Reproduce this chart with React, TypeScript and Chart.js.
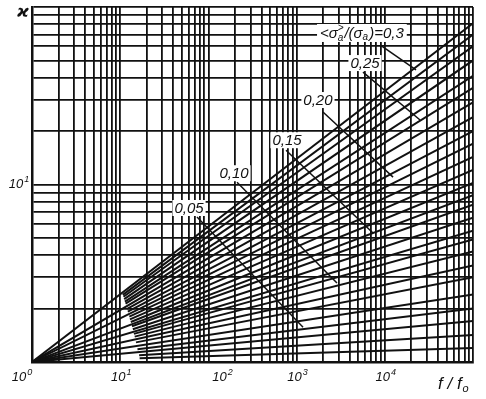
import React, { useEffect, useRef } from "react";
import { Chart, registerables } from "chart.js";

Chart.register(...registerables);

// ---- axis ranges and grid ----
const X_MIN = 1;
const X_MAX = 100000;
const Y_MIN = 1;
const Y_MAX = 100;
const gridMantissas = [1, 2, 3, 4, 5, 6, 7, 8, 9];
const xDecades = [1, 10, 100, 1000, 10000];
const yDecades = [1, 10];

// ---- tick labels ----
const xLabelValues = [1, 10, 100, 1000, 10000];
const xLabelExponents = ["0", "1", "2", "3", "4"];
const yLabelValues = [10];
const yLabelExponents = ["1"];

// ---- family of lines: start point (x, kappa) and kappa at x = 1e5 ----
const lineStartX = [1, 10.7, 10.9, 11.1, 11.3, 11.5, 1, 12.0, 12.2, 1, 12.7, 12.9, 13.2, 1, 13.6, 13.9, 1, 14.3, 14.6, 1, 15.1, 1, 15.7, 1, 16.4, 16.6];
const lineStartK = [1, 2.39, 2.33, 2.26, 2.19, 2.13, 1, 1.99, 1.92, 1, 1.8, 1.74, 1.68, 1, 1.59, 1.53, 1, 1.44, 1.39, 1, 1.29, 1, 1.18, 1, 1.09, 1.05];
const lineEndK = [81, 70, 60, 50, 41, 35, 29, 24, 20, 17, 14.3, 12.1, 10.2, 8.7, 7.7, 6.5, 5.5, 4.9, 4.2, 3.5, 3.0, 2.4, 2.0, 1.7, 1.42, 1.2];

// ---- parameter labels and their leader lines ----
const leaderLabels = ["0,05", "0,10", "0,15", "0,20", "0,25", "0,3"];
const leaderX1 = [74.3, 211, 758, 1990, 5660, 8830];
const leaderY1 = [6.56, 10.3, 15.6, 25.6, 43.0, 61.1];
const leaderX2 = [1183, 2870, 7350, 12400, 25100, 22600];
const leaderY2 = [1.57, 2.79, 5.33, 11.0, 23.1, 44.2];

// ---- styles (pixel offsets of texts) ----
const LABEL_OFFSETS = [
  [-8, -9],
  [-3, -9],
  [1, -10],
  [-5, -12],
  [2, -9],
  [-60, -12],
];
const X_LABEL_DX = [-10, 1, 14, 1, 1];
const FONT = "'Liberation Sans', Arial, sans-serif";
const INK = "#111";

function drawPow(ctx: CanvasRenderingContext2D, cx: number, cy: number, exp: string) {
  ctx.font = `italic 13px ${FONT}`;
  const w1 = ctx.measureText("10").width;
  ctx.font = `italic 9px ${FONT}`;
  const w2 = ctx.measureText(exp).width;
  const total = w1 + 1 + w2;
  const left = cx - total / 2;
  ctx.textBaseline = "middle";
  ctx.textAlign = "left";
  ctx.font = `italic 13px ${FONT}`;
  ctx.fillText("10", left, cy + 1);
  ctx.font = `italic 9px ${FONT}`;
  ctx.fillText(exp, left + w1 + 1, cy - 4);
}

const annotPlugin = {
  id: "annot",
  afterDraw(chart: any) {
    const ctx: CanvasRenderingContext2D = chart.ctx;
    const xs = chart.scales.x;
    const ys = chart.scales.y;
    const area = chart.chartArea;
    ctx.save();
    ctx.fillStyle = INK;

    // parameter labels
    leaderLabels.forEach((lab, i) => {
      const px = xs.getPixelForValue(leaderX1[i]);
      const py = ys.getPixelForValue(leaderY1[i]);
      const [dx, dy] = LABEL_OFFSETS[i];
      ctx.textBaseline = "middle";
      if (i < leaderLabels.length - 1) {
        ctx.font = `italic 15px ${FONT}`;
        const w = ctx.measureText(lab).width;
        const cx = px + dx;
        const cy = py + dy;
        ctx.fillStyle = "#fff";
        ctx.fillRect(cx - w / 2 - 2, cy - 8, w + 4, 16);
        ctx.fillStyle = INK;
        ctx.textAlign = "center";
        ctx.fillText(lab, cx, cy + 1);
      } else {
        // "<σ~a>/(σa)=0,3"
        const big = `italic 15px ${FONT}`;
        const small = `italic 10px ${FONT}`;
        ctx.font = big;
        const wA = ctx.measureText("<σ").width;
        const wB = ctx.measureText("/(σ").width;
        const wC = ctx.measureText(")=" + lab).width;
        ctx.font = small;
        const wa = ctx.measureText("a").width + 1;
        const total = wA + wa + wB + wa + wC;
        const left = px + dx;
        const cy = py + dy;
        ctx.fillStyle = "#fff";
        ctx.fillRect(left - 3, cy - 9, total + 6, 18);
        ctx.fillStyle = INK;
        ctx.textAlign = "left";
        let x = left;
        ctx.font = big;
        ctx.fillText("<σ", x, cy + 1);
        x += wA;
        ctx.font = small;
        ctx.fillText("˃", x, cy - 5);
        ctx.fillText("a", x, cy + 5);
        x += wa;
        ctx.font = big;
        ctx.fillText("/(σ", x, cy + 1);
        x += wB;
        ctx.font = small;
        ctx.fillText("a", x, cy + 4);
        x += wa;
        ctx.font = big;
        ctx.fillText(")=" + lab, x, cy + 1);
      }
    });

    // x tick labels
    ctx.fillStyle = INK;
    xLabelValues.forEach((v, i) => {
      const px = xs.getPixelForValue(v) + X_LABEL_DX[i];
      drawPow(ctx, px, area.bottom + 14, xLabelExponents[i]);
    });
    // y tick labels
    yLabelValues.forEach((v, i) => {
      const py = ys.getPixelForValue(v);
      drawPow(ctx, area.left - 13, py - 1, yLabelExponents[i]);
    });

    // axis titles
    ctx.textAlign = "center";
    ctx.textBaseline = "middle";
    ctx.font = `bold italic 16px 'DejaVu Sans', sans-serif`;
    ctx.fillText("ϰ", area.left - 9, area.top + 6);

    ctx.textAlign = "left";
    ctx.font = `italic 17px ${FONT}`;
    const fx = area.right - 35;
    const fy = area.bottom + 22;
    ctx.fillText("f / f", fx, fy);
    const fw = ctx.measureText("f / f").width;
    ctx.font = `italic 11px ${FONT}`;
    ctx.fillText("o", fx + fw + 1, fy + 5);

    ctx.restore();
  },
};

export default function App() {
  const ref = useRef<HTMLCanvasElement | null>(null);

  useEffect(() => {
    if (!ref.current) return;
    const xGrid: number[] = [];
    xDecades.forEach((d) => gridMantissas.forEach((m) => xGrid.push(m * d)));
    xGrid.push(X_MAX);
    const yGrid: number[] = [];
    yDecades.forEach((d) => gridMantissas.forEach((m) => yGrid.push(m * d)));
    yGrid.push(Y_MAX);

    const lineSets = lineEndK.map((k, i) => ({
      data: [
        { x: lineStartX[i], y: lineStartK[i] },
        { x: X_MAX, y: k },
      ],
      borderColor: INK,
      borderWidth: 2,
      pointRadius: 0,
      fill: false,
    }));
    const leaderSets = leaderLabels.map((_, i) => ({
      data: [
        { x: leaderX1[i], y: leaderY1[i] },
        { x: leaderX2[i], y: leaderY2[i] },
      ],
      borderColor: INK,
      borderWidth: 1.5,
      pointRadius: 0,
      fill: false,
    }));

    const chart = new Chart(ref.current, {
      type: "line",
      data: { datasets: [...lineSets, ...leaderSets] as any },
      options: {
        responsive: false,
        animation: false,
        devicePixelRatio: 1,
        layout: { padding: { left: 32, right: 13, top: 7, bottom: 37 } },
        plugins: { legend: { display: false }, tooltip: { enabled: false } },
        elements: { point: { radius: 0 }, line: { tension: 0 } },
        scales: {
          x: {
            type: "logarithmic",
            min: X_MIN,
            max: X_MAX,
            afterBuildTicks: (s: any) => {
              s.ticks = xGrid.map((v) => ({ value: v }));
            },
            afterFit: (s: any) => {
              s.height = 0;
            },
            ticks: { display: false },
            grid: { color: INK, lineWidth: 1.8, drawTicks: false },
            border: { display: true, color: INK, width: 2.5 },
          },
          y: {
            type: "logarithmic",
            min: Y_MIN,
            max: Y_MAX,
            afterBuildTicks: (s: any) => {
              s.ticks = yGrid.map((v) => ({ value: v }));
            },
            afterFit: (s: any) => {
              s.width = 0;
            },
            ticks: { display: false },
            grid: { color: INK, lineWidth: 1.8, drawTicks: false },
            border: { display: true, color: INK, width: 2.5 },
          },
        },
      } as any,
      plugins: [annotPlugin],
    });
    return () => chart.destroy();
  }, []);

  return (
    <div style={{ position: "fixed", left: 0, top: 0, width: 486, height: 399, background: "#fff" }}>
      <canvas ref={ref} width={486} height={399} style={{ width: 486, height: 399, display: "block" }} />
    </div>
  );
}
